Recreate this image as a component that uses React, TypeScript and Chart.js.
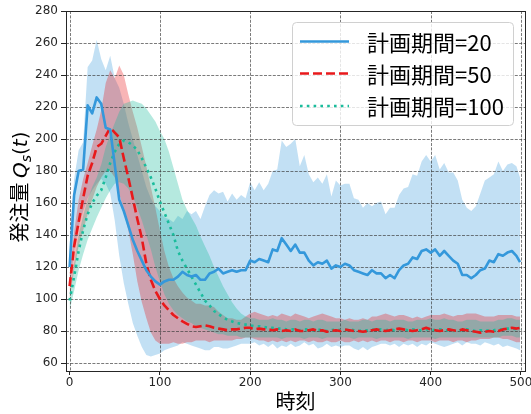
import { useEffect, useRef } from "react";
import { Chart, registerables } from "chart.js";
Chart.register(...registerables);

const T = [
  0, 5, 10, 15, 20, 25, 30, 35, 40, 45,
  50, 55, 60, 65, 70, 75, 80, 85, 90, 95,
  100, 105, 110, 115, 120, 125, 130, 135, 140, 145,
  150, 155, 160, 165, 170, 175, 180, 185, 190, 195,
  200, 205, 210, 215, 220, 225, 230, 235, 240, 245,
  250, 255, 260, 265, 270, 275, 280, 285, 290, 295,
  300, 305, 310, 315, 320, 325, 330, 335, 340, 345,
  350, 355, 360, 365, 370, 375, 380, 385, 390, 395,
  400, 405, 410, 415, 420, 425, 430, 435, 440, 445,
  450, 455, 460, 465, 470, 475, 480, 485, 490, 495,
  499,
];

const BLUE_MEAN = [
  120, 165, 180, 181, 221, 216, 226, 222, 207, 206,
  184, 162, 155, 146, 137, 130, 124, 118, 114, 111,
  109, 111, 112, 112, 114, 117, 115, 114, 115, 112,
  112, 116, 117, 119, 116, 117, 118, 117, 118, 118,
  124, 123, 125, 124, 123, 131, 130, 138, 134, 130,
  134, 129, 129, 124, 121, 123, 122, 124, 119, 121,
  120, 122, 121, 118, 117, 116, 115, 118, 116, 116,
  113, 115, 113, 118, 121, 122, 126, 125, 130, 131,
  129, 131, 127, 130, 127, 124, 122, 115, 115, 113,
  115, 118, 119, 124, 123, 128, 127, 129, 130, 127,
  123,
];
const BLUE_UP = [
  135, 175, 193, 198, 245, 249, 262, 250, 243, 252,
  238, 232, 222, 210, 200, 190, 180, 170, 163, 158,
  155, 151, 150, 148, 152, 150, 155, 153, 155, 150,
  158, 165, 168, 166, 167, 161, 166, 162, 165, 163,
  173, 168, 173, 168, 172, 180, 181, 199, 195, 197,
  200, 183, 190, 178, 173, 176, 172, 178, 164, 174,
  171, 172, 172, 163, 162, 157, 160, 158, 160, 161,
  153, 157, 157, 165, 169, 170, 178, 177, 186, 190,
  186, 190, 181, 185, 179, 179, 174, 162, 157, 155,
  158, 166, 174, 176, 178, 186, 180, 184, 185, 183,
  176,
];
const BLUE_LO = [
  105, 130, 145, 155, 163, 168, 172, 175, 172, 166,
  149, 127, 110, 97, 85, 77, 70, 65, 64, 65,
  66, 68, 69, 70, 71, 73, 72, 71, 70, 69,
  68, 68, 70, 70, 69, 69, 70, 71, 72, 72,
  72, 73, 71, 72, 70, 72, 69, 71, 70, 72,
  70, 71, 73, 71, 72, 69, 70, 72, 70, 71,
  70, 71, 71, 69, 68, 70, 68, 70, 71, 72,
  72, 71, 72, 70, 72, 71, 72, 70, 72, 71,
  73, 72, 71, 70, 71, 72, 73, 71, 73, 72,
  72, 71, 73, 72, 71, 72, 70, 71, 70, 69,
  68,
];

const RED_MEAN = [
  108, 133, 148, 163, 177, 185, 195, 197, 202, 207,
  204, 201, 188, 176, 163, 150, 138, 122, 112, 105,
  100, 96, 93, 90, 88, 86, 84.5, 83, 82.5, 83,
  83.5, 83, 82, 81.5, 81, 80.5, 81, 81, 81.5, 82,
  82, 81, 81.5, 81, 81, 80.5, 81, 80, 80.5, 80,
  81, 80, 80, 80.5, 81, 80, 80.5, 79.5, 80, 80.5,
  80, 81, 80.5, 80, 80, 79.5, 80, 80.5, 81, 80.5,
  80, 80.5, 81, 81.5, 81, 80.5, 80, 80.5, 81, 82,
  81, 80.5, 80, 80.5, 81, 80.5, 80, 81, 80.5, 80,
  79.5, 79, 79.5, 80, 79.5, 80, 81, 81.5, 82, 81.5,
  82,
];
const RED_UP = [
  115, 142, 162, 175, 185, 196, 206, 218, 235, 243,
  238, 246, 240, 228, 217, 207, 195, 183, 170, 157,
  143, 130, 120, 113, 108, 104, 101, 99, 97, 97,
  96, 96, 95, 92, 90, 88, 88, 87, 87, 89,
  91, 92, 91, 90, 89, 90, 89, 91, 90, 89,
  91, 90, 89, 88, 89, 90, 91, 90, 89, 88,
  88, 87, 88, 87, 87, 88, 87, 89, 89, 90,
  91, 90, 89, 90, 90, 89, 88, 89, 88, 89,
  90, 90, 90, 91, 90, 89, 90, 90, 91, 91,
  91, 90, 89, 89, 89, 90, 90, 90, 90, 89,
  89,
];
const RED_LO = [
  100, 118, 133, 143, 153, 162, 170, 176, 180, 180,
  176, 166, 155, 143, 128, 111, 98, 88, 79, 74,
  72, 72, 72, 73, 72, 72, 73, 73, 74, 74,
  74, 73, 74, 74, 74, 74, 74, 75, 75, 76,
  76, 75, 74, 74, 73, 74, 73, 74, 73, 74,
  73, 74, 74, 73, 74, 73, 73, 74, 73, 73,
  74, 73, 73, 74, 73, 74, 73, 74, 73, 74,
  74, 73, 74, 74, 73, 74, 74, 73, 74, 74,
  74, 73, 74, 74, 74, 73, 74, 74, 73, 74,
  74, 75, 75, 75, 76, 76, 75, 75, 74, 73,
  73,
];

const GREEN_MEAN = [
  99, 114, 130, 143, 153, 160, 164.5, 168, 176, 185,
  192, 197, 199, 198, 196, 193, 188, 182, 176, 169,
  161, 154, 147, 140, 130, 124, 119, 114, 109, 104,
  99, 96, 92.5, 90.5, 88.5, 87, 86, 85, 84.5, 84,
  83.5, 83, 83, 82.5, 82, 82, 81.5, 81.5, 81, 81,
  81, 80.5, 81, 81, 80.5, 81, 80.5, 80, 80.5, 81,
  80.5, 80.5, 81, 80.5, 80, 80.5, 80.5, 81, 80.5, 81,
  80.5, 81, 80.5, 81, 81, 80.5, 81, 80.5, 80.5, 81,
  81, 80.5, 81, 80.5, 80.5, 80, 80.5, 80.5, 81, 80.5,
  80, 80.5, 80, 80.5, 80.5, 81, 81, 81.5, 81.5, 81,
  81.5,
];
const GREEN_UP = [
  103, 122, 140, 152, 162, 170, 176, 184, 195, 203,
  210, 217, 222, 223, 224, 223, 222, 219, 215, 211,
  205, 200, 192, 182, 172, 162, 156, 151, 146, 139,
  133, 127, 120, 114, 108, 103, 98, 94, 91, 89,
  88, 88, 87, 87, 87, 88, 87, 87, 86, 87,
  87, 86, 87, 87, 86, 87, 87, 86, 86, 86,
  86, 87, 86, 86, 86, 87, 87, 86, 87, 87,
  87, 86, 87, 87, 87, 86, 86, 87, 87, 87,
  88, 87, 87, 88, 87, 87, 86, 86, 87, 87,
  87, 86, 86, 86, 86, 87, 87, 88, 88, 87,
  87,
];
const GREEN_LO = [
  93, 105, 118, 128, 137, 144, 151, 157, 163, 168,
  172, 173, 172, 169, 164, 157, 149, 140, 131, 120,
  111, 103, 97, 93, 90, 88, 86, 85, 83, 82,
  81, 80, 79, 78, 78, 77, 77, 77, 76, 76,
  76, 76, 76, 76, 76, 76, 76, 75, 76, 76,
  76, 76, 75, 76, 76, 76, 75, 76, 76, 76,
  76, 76, 76, 75, 76, 76, 76, 76, 75, 76,
  76, 76, 76, 76, 76, 75, 76, 76, 76, 76,
  76, 75, 76, 76, 76, 76, 76, 76, 76, 76,
  76, 76, 76, 76, 76, 76, 77, 77, 77, 76,
  76,
];

const X_TICKS = [0, 100, 200, 300, 400, 500];
const Y_TICKS = [60, 80, 100, 120, 140, 160, 180, 200, 220, 240, 260, 280];
const SERIES_LABELS = ["計画期間=20", "計画期間=50", "計画期間=100"];
const X_TITLE = "時刻";
const Y_TITLE_JA = "発注量";

const BLUE = "#3498db";
const RED = "#e8191b";
const GREEN = "#1abc9c";
const CJK = '"Noto Sans CJK JP", "Noto Sans CJK SC", sans-serif';
const TICK_FONT = '"DejaVu Sans"';
const DARK = "#262626";

function pts(vals: number[]) {
  return T.map((t, i) => ({ x: t, y: vals[i] }));
}

function lineDs(label: string, vals: number[], color: string, dash: number[]) {
  return {
    label,
    data: pts(vals),
    borderColor: color,
    backgroundColor: color,
    borderWidth: 2.6,
    borderDash: dash,
    borderCapStyle: "butt" as const,
    borderJoinStyle: "round" as const,
    pointRadius: 0,
    fill: false,
    tension: 0,
  };
}

function bandDs(vals: number[], color: string, fill: any) {
  return {
    label: "",
    data: pts(vals),
    borderWidth: 0,
    borderColor: "rgba(0,0,0,0)",
    backgroundColor: color,
    pointRadius: 0,
    fill,
    tension: 0,
  };
}

const decorPlugin = {
  id: "decor",
  beforeDatasetsDraw(chart: any) {
    const { ctx, chartArea: a, scales } = chart;
    ctx.save();
    ctx.beginPath();
    ctx.rect(a.left, a.top, a.right - a.left, a.bottom - a.top);
    ctx.clip();
    ctx.strokeStyle = "rgba(60,60,60,0.85)";
    ctx.lineWidth = 0.8;
    ctx.setLineDash([3, 1.4]);
    for (const v of X_TICKS) {
      const x = Math.round(scales.x.getPixelForValue(v)) + 0.5;
      ctx.beginPath();
      ctx.moveTo(x, a.top);
      ctx.lineTo(x, a.bottom);
      ctx.stroke();
    }
    for (const v of Y_TICKS) {
      const y = Math.round(scales.y.getPixelForValue(v)) + 0.5;
      ctx.beginPath();
      ctx.moveTo(a.left, y);
      ctx.lineTo(a.right, y);
      ctx.stroke();
    }
    ctx.restore();
  },
  afterDatasetsDraw(chart: any) {
    const { ctx, chartArea: a } = chart;
    ctx.save();
    ctx.strokeStyle = DARK;
    ctx.lineWidth = 1;
    ctx.strokeRect(Math.round(a.left) + 0.5, Math.round(a.top) + 0.5, Math.round(a.right - a.left), Math.round(a.bottom - a.top));
    ctx.restore();
  },
  afterDraw(chart: any) {
    const { ctx, chartArea: a } = chart;
    // legend
    const bx = a.right - 232.5;
    const by = a.top + 11.5;
    const bw = 221;
    const bh = 103;
    ctx.save();
    ctx.beginPath();
    ctx.roundRect(bx, by, bw, bh, 4);
    ctx.fillStyle = "rgba(255,255,255,0.8)";
    ctx.fill();
    ctx.strokeStyle = "#d0d0d0";
    ctx.lineWidth = 1;
    ctx.stroke();
    const rows = [19, 51, 83.5];
    for (let i = 0; i < 3; i++) {
      const ds = chart.data.datasets[i];
      const y = by + rows[i];
      ctx.save();
      ctx.strokeStyle = ds.borderColor;
      ctx.lineWidth = ds.borderWidth;
      ctx.setLineDash(ds.borderDash || []);
      ctx.lineCap = "butt";
      ctx.beginPath();
      ctx.moveTo(bx + 7.5, y);
      ctx.lineTo(bx + 56.5, y);
      ctx.stroke();
      ctx.restore();
      ctx.fillStyle = "#000";
      ctx.font = `22px ${CJK}`;
      ctx.textAlign = "left";
      ctx.textBaseline = "middle";
      ctx.fillText(ds.label, bx + 74.5, y + 1);
    }
    ctx.restore();

    // x title
    ctx.save();
    ctx.fillStyle = "#000";
    ctx.font = `20px ${CJK}`;
    ctx.textAlign = "center";
    ctx.textBaseline = "middle";
    ctx.fillText(X_TITLE, (a.left + a.right) / 2, 401);
    ctx.restore();

    // y title with math-like parts
    const parts = [
      { text: Y_TITLE_JA + " ", font: `20px ${CJK}`, dy: 0 },
      { text: "Q", font: `italic 20px ${TICK_FONT}`, dy: 0 },
      { text: "s", font: `italic 14px ${TICK_FONT}`, dy: 4 },
      { text: "(", font: `20px ${TICK_FONT}`, dy: 0 },
      { text: "t", font: `italic 20px ${TICK_FONT}`, dy: 0 },
      { text: ")", font: `20px ${TICK_FONT}`, dy: 0 },
    ];
    ctx.save();
    let total = 0;
    const widths: number[] = [];
    for (const p of parts) {
      ctx.font = p.font;
      const w = ctx.measureText(p.text).width;
      widths.push(w);
      total += w;
    }
    ctx.translate(27, 187);
    ctx.rotate(-Math.PI / 2);
    ctx.fillStyle = "#000";
    ctx.textAlign = "left";
    ctx.textBaseline = "alphabetic";
    let x = -total / 2;
    parts.forEach((p, i) => {
      ctx.font = p.font;
      ctx.fillText(p.text, x, p.dy);
      x += widths[i];
    });
    ctx.restore();
  },
};

export default function App() {
  const ref = useRef<HTMLCanvasElement | null>(null);
  useEffect(() => {
    if (!ref.current) return;
    const chart = new Chart(ref.current, {
      type: "line",
      data: {
        datasets: [
          lineDs(SERIES_LABELS[0], BLUE_MEAN, BLUE, []),
          lineDs(SERIES_LABELS[1], RED_MEAN, RED, [9, 4]),
          lineDs(SERIES_LABELS[2], GREEN_MEAN, GREEN, [2.6, 4.2]),
          bandDs(GREEN_UP, "rgba(26,188,156,0.32)", "+1"),
          bandDs(GREEN_LO, "rgba(0,0,0,0)", false),
          bandDs(RED_UP, "rgba(232,25,27,0.32)", "+1"),
          bandDs(RED_LO, "rgba(0,0,0,0)", false),
          bandDs(BLUE_UP, "rgba(52,152,219,0.3)", "+1"),
          bandDs(BLUE_LO, "rgba(0,0,0,0)", false),
        ] as any,
      },
      options: {
        animation: false,
        responsive: false,
        devicePixelRatio: 1,
        layout: { padding: { left: 0, right: 6, top: 11, bottom: 0 } },
        plugins: {
          legend: { display: false },
          tooltip: { enabled: false },
          filler: { drawTime: "beforeDatasetsDraw", propagate: false },
        } as any,
        scales: {
          x: {
            type: "linear",
            min: -4,
            max: 504.5,
            afterBuildTicks: (s: any) => {
              s.ticks = X_TICKS.map((v) => ({ value: v }));
            },
            afterFit: (s: any) => {
              s.height = 43;
              s.paddingLeft = 0;
              s.paddingRight = 0;
            },
            ticks: {
              font: { family: TICK_FONT, size: 12 },
              color: DARK,
              padding: 1,
              maxRotation: 0,
              autoSkip: false,
            },
            grid: { drawOnChartArea: false, drawTicks: true, tickLength: 4, tickColor: DARK, tickWidth: 1 },
            border: { display: false },
          },
          y: {
            type: "linear",
            min: 55,
            max: 280,
            afterBuildTicks: (s: any) => {
              s.ticks = Y_TICKS.map((v) => ({ value: v }));
            },
            afterFit: (s: any) => {
              s.width = 66;
              s.paddingTop = 0;
              s.paddingBottom = 0;
            },
            ticks: {
              font: { family: TICK_FONT, size: 12 },
              color: DARK,
              padding: 3,
              autoSkip: false,
            },
            grid: { drawOnChartArea: false, drawTicks: true, tickLength: 5, tickColor: DARK, tickWidth: 1 },
            border: { display: false },
          },
        },
      },
      plugins: [decorPlugin],
    } as any);
    return () => chart.destroy();
  }, []);
  return (
    <div style={{ position: "fixed", left: 0, top: 0, width: 531, height: 414, background: "#fff" }}>
      <canvas ref={ref} width={531} height={414} style={{ width: 531, height: 414, display: "block" }} />
    </div>
  );
}
